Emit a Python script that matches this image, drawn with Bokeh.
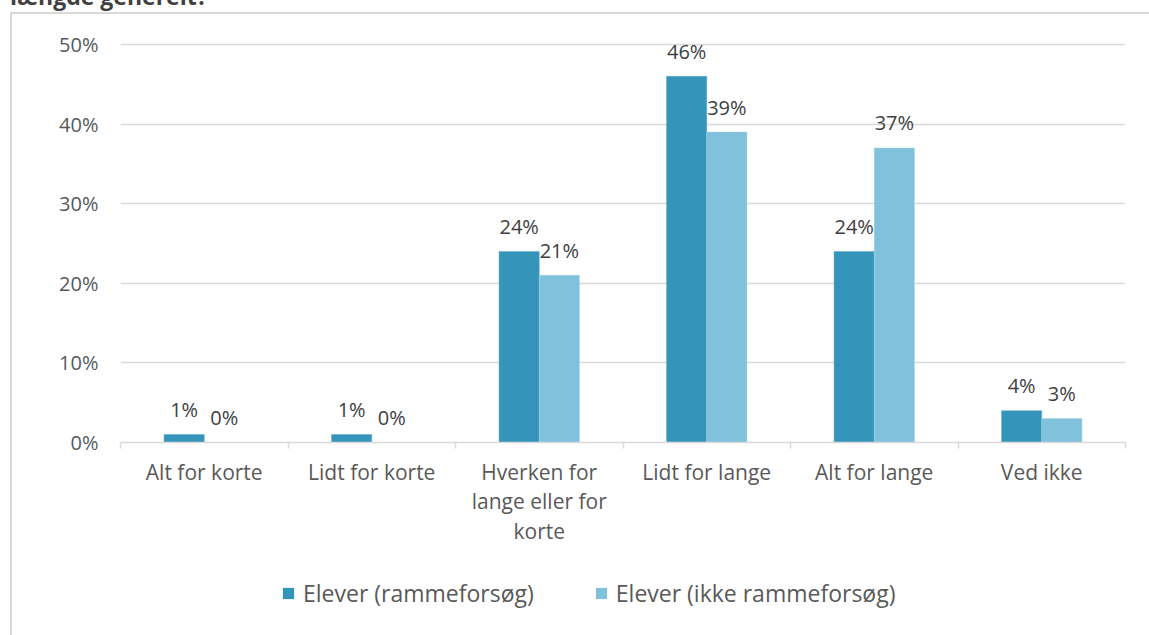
from bokeh.plotting import figure
from bokeh.layouts import column
from bokeh.models import (ColumnDataSource, FixedTicker, NumeralTickFormatter, Range1d,
                          Legend, LegendItem, Div)
from bokeh.core.properties import value
from bokeh.embed import file_html
from bokeh.resources import INLINE

title_text = "længde generelt?"
categories = ["Alt for korte", "Lidt for korte", "Hverken for\nlange eller for\nkorte",
              "Lidt for lange", "Alt for lange", "Ved ikke"]
series_names = ["Elever (rammeforsøg)", "Elever (ikke rammeforsøg)"]
rammeforsoeg = [0.01, 0.01, 0.24, 0.46, 0.24, 0.04]
ikke_rammeforsoeg = [0.00, 0.00, 0.21, 0.39, 0.37, 0.03]
y_ticks = [0.0, 0.1, 0.2, 0.3, 0.4, 0.5]

DARK = "#3494BA"
LIGHT = "#80C1DC"
GRID = "#D9D9D9"
TXT = "#595959"
FONT = "Open Sans"

idx = list(range(len(categories)))
bw = 0.24

p = figure(width=1137, height=548, output_backend="svg", toolbar_location=None,
           x_range=Range1d(-0.5, len(categories) - 0.5), y_range=Range1d(0, 0.5025),
           min_border_left=108, min_border_right=24, min_border_top=28, min_border_bottom=120)
p.outline_line_color = None
p.background_fill_color = "white"
p.border_fill_color = "white"

src1 = ColumnDataSource(dict(x=[i - bw / 2 for i in idx], top=rammeforsoeg,
                             lab=[f"{round(v*100)}%" for v in rammeforsoeg]))
src2 = ColumnDataSource(dict(x=[i + bw / 2 for i in idx], top=ikke_rammeforsoeg,
                             lab=[f"{round(v*100)}%" for v in ikke_rammeforsoeg]))

p.vbar(x="x", top="top", bottom=0, width=bw, source=src1, fill_color=DARK,
       line_color="#5AA9C8", line_width=0.5)
p.vbar(x="x", top="top", bottom=0, width=bw, source=src2, fill_color=LIGHT,
       line_color="#A6D4E7", line_width=0.5)

for s in (src1, src2):
    p.text(x="x", y="top", text="lab", source=s, text_align="center", text_baseline="alphabetic",
           y_offset=-25, text_font=value(FONT), text_font_size="20px", text_color="#404040")

# axes
p.yaxis.ticker = FixedTicker(ticks=y_ticks)
p.yaxis.formatter = NumeralTickFormatter(format="0%")
p.yaxis.axis_line_color = None
p.yaxis.major_tick_line_color = None
p.yaxis.minor_tick_line_color = None
p.yaxis.major_label_standoff = 16
p.yaxis.major_label_text_font = FONT
p.yaxis.major_label_text_font_size = "20px"
p.yaxis.major_label_text_color = TXT

p.xaxis.ticker = FixedTicker(ticks=idx, minor_ticks=[i - 0.5 for i in range(len(categories) + 1)])
p.xaxis.major_label_overrides = {i: c for i, c in enumerate(categories)}
p.xaxis.axis_line_color = GRID
p.xaxis.axis_line_width = 1.5
p.xaxis.major_tick_line_color = None
p.xaxis.minor_tick_line_color = GRID
p.xaxis.minor_tick_line_width = 1.5
p.xaxis.minor_tick_out = 6
p.xaxis.minor_tick_in = 0
p.xaxis.major_label_standoff = 9
p.xaxis.major_label_text_font = FONT
p.xaxis.major_label_text_font_size = "21px"
p.xaxis.major_label_text_color = TXT
p.xaxis.major_label_text_line_height = 1.07

p.xgrid.grid_line_color = None
p.ygrid.grid_line_color = GRID
p.ygrid.grid_line_width = 1.5

# legend strip (its frame is aligned with the main frame by the column layout)
lg = figure(width=1137, height=73, output_backend="svg", toolbar_location=None,
            x_range=Range1d(0, 1), y_range=Range1d(0, 1),
            min_border=0, min_border_left=0, min_border_right=0, min_border_top=0, min_border_bottom=0)
lg.axis.visible = False
lg.grid.visible = False
lg.outline_line_color = None
l1 = lg.vbar(x=[-10], top=[-10], bottom=[-11], width=1, fill_color=DARK, line_color=None)
l2 = lg.vbar(x=[-10], top=[-10], bottom=[-11], width=1, fill_color=LIGHT, line_color=None)
legend = Legend(items=[LegendItem(label=series_names[0], renderers=[l1], index=0),
                       LegendItem(label=series_names[1], renderers=[l2], index=0)],
                orientation="horizontal", location=(161, 26),
                label_text_font=FONT, label_text_font_size="23px", label_text_color=TXT,
                glyph_width=14, glyph_height=14, spacing=60, label_standoff=8,
                padding=0, margin=0,
                border_line_color=None, background_fill_alpha=0)
lg.add_layout(legend, "center")

chart = column(p, lg, spacing=0,
               styles={"margin-left": "10px",
                       "border-left": "2px solid #D9D9D9", "border-top": "2px solid #D9D9D9"})

title = Div(text=f'<div style="position:relative;top:-15px;left:10px;white-space:nowrap;'
                 f'font-family:\'Open Sans\';font-weight:bold;font-size:23px;line-height:23px;'
                 f'color:#404040">{title_text}</div>',
            width=1149, height=12, margin=0, styles={"overflow": "hidden"})

layout = column(title, chart, spacing=0)

open("out.html", "w").write(file_html(layout, INLINE))
